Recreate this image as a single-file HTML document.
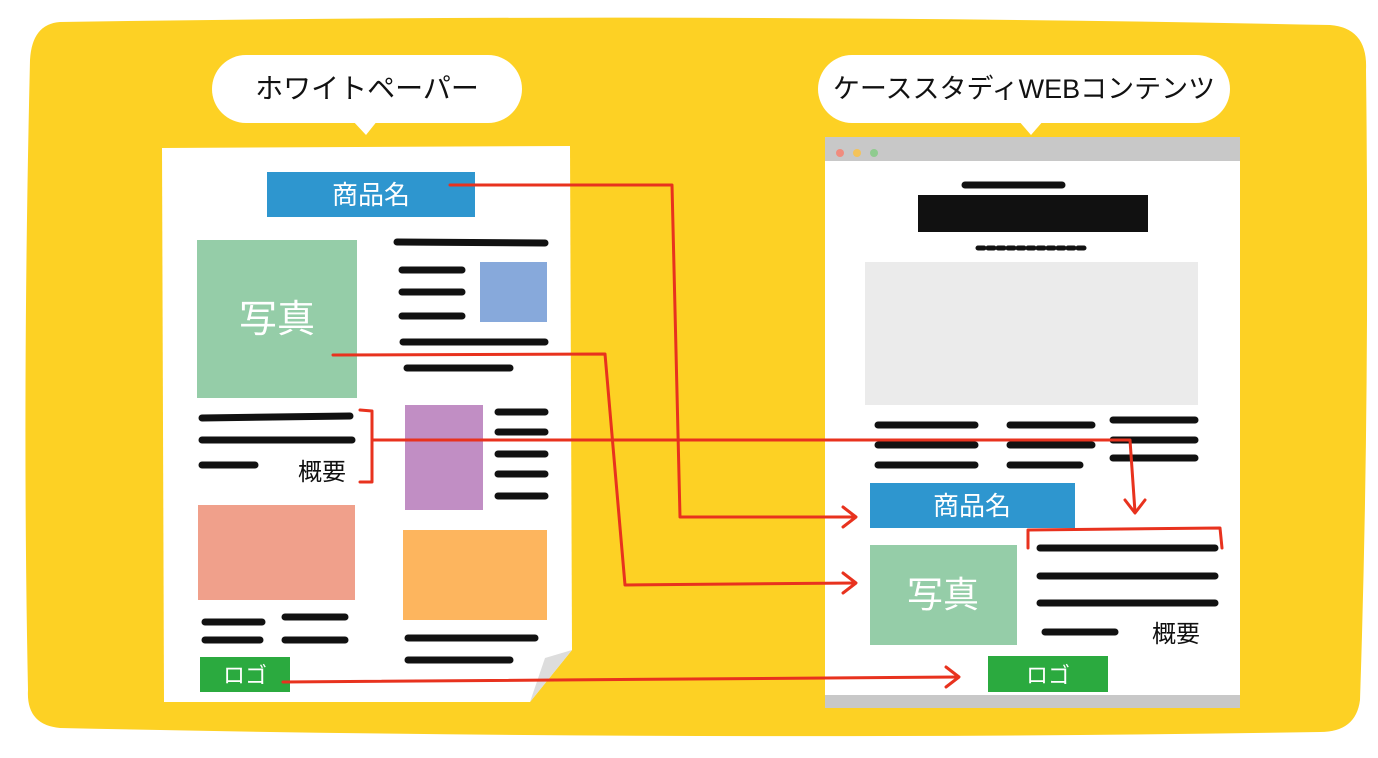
<!DOCTYPE html>
<html><head><meta charset="utf-8"><style>
html,body{margin:0;padding:0;background:#fff;}
svg{display:block}
text{font-family:"Liberation Sans","Noto Sans CJK JP",sans-serif;}
</style></head><body>
<svg width="1378" height="758" viewBox="0 0 1378 758" xmlns="http://www.w3.org/2000/svg">
<path d="M60 22 Q700 12 1330 25 Q1368 28 1366 70 Q1370 400 1360 700 Q1356 732 1320 732 Q700 742 60 728 Q26 725 28 690 Q22 400 30 60 Q32 24 60 22Z" fill="#FDD124"/>
<!-- bubbles -->
<rect x="212" y="55" width="310" height="68" rx="34" fill="#fff"/>
<path d="M352 120 L366 135 L378 120Z" fill="#fff"/>
<text x="367" y="98" font-size="28" text-anchor="middle" fill="#111">ホワイトペーパー</text>
<rect x="818" y="55" width="412" height="68" rx="34" fill="#fff"/>
<path d="M1018 120 L1031 135 L1044 120Z" fill="#fff"/>
<text x="1024" y="98" font-size="27" text-anchor="middle" fill="#111">ケーススタディWEBコンテンツ</text>
<!-- left paper -->
<path d="M162 148 L570 146 L572 650 L530 702 L164 702Z" fill="#fff"/>
<path d="M530 702 L572 650 L545 658Z" fill="#ddd"/>
<rect x="267" y="172" width="208" height="45" fill="#2E96CF"/>
<text x="371" y="204" font-size="26" text-anchor="middle" fill="#fff">商品名</text>
<rect x="197" y="240" width="160" height="158" fill="#95CDA8"/>
<text x="277" y="332" font-size="38" text-anchor="middle" fill="#fff">写真</text>
<g stroke="#111" stroke-width="7" stroke-linecap="round">
<line x1="397" y1="242" x2="545" y2="243"/>
<line x1="402" y1="270" x2="462" y2="270"/><line x1="402" y1="292" x2="462" y2="292"/><line x1="402" y1="316" x2="462" y2="316"/>
<line x1="403" y1="342" x2="545" y2="342"/><line x1="407" y1="368" x2="510" y2="368"/>
<line x1="202" y1="418" x2="350" y2="416"/><line x1="202" y1="440" x2="352" y2="440"/><line x1="202" y1="465" x2="255" y2="465"/>
<line x1="498" y1="412" x2="545" y2="412"/><line x1="498" y1="432" x2="545" y2="432"/><line x1="498" y1="454" x2="545" y2="454"/><line x1="498" y1="474" x2="545" y2="474"/><line x1="498" y1="496" x2="545" y2="496"/>
<line x1="205" y1="622" x2="262" y2="622"/><line x1="285" y1="617" x2="345" y2="617"/><line x1="205" y1="640" x2="260" y2="640"/><line x1="285" y1="640" x2="345" y2="640"/>
<line x1="408" y1="638" x2="535" y2="638"/><line x1="408" y1="660" x2="510" y2="660"/>
</g>
<rect x="480" y="262" width="67" height="60" fill="#87A9DB"/>
<text x="322" y="480" font-size="24" text-anchor="middle" fill="#111">概要</text>
<rect x="405" y="405" width="78" height="105" fill="#C18EC4"/>
<rect x="198" y="505" width="157" height="95" fill="#F0A08B"/>
<rect x="403" y="530" width="144" height="90" fill="#FDB55E"/>
<rect x="200" y="657" width="90" height="35" fill="#2BAA3F"/>
<text x="245" y="683" font-size="22" text-anchor="middle" fill="#fff">ロゴ</text>
<!-- right browser -->
<rect x="825" y="137" width="415" height="571" fill="#fff"/>
<rect x="825" y="137" width="415" height="24" fill="#C8C8C8"/>
<rect x="825" y="695" width="415" height="13" fill="#C8C8C8"/>
<circle cx="840" cy="153" r="4" fill="#F08C7E"/><circle cx="857" cy="153" r="4" fill="#F4C35A"/><circle cx="874" cy="153" r="4" fill="#8FCB8F"/>
<rect x="918" y="195" width="230" height="37" fill="#111"/>
<g stroke="#111" stroke-width="7" stroke-linecap="round">
<line x1="965" y1="185" x2="1062" y2="185"/>
<line x1="978" y1="248" x2="1088" y2="248" stroke-width="5" stroke-dasharray="6 4"/>
<line x1="878" y1="425" x2="975" y2="425"/><line x1="878" y1="445" x2="975" y2="445"/><line x1="878" y1="465" x2="975" y2="465"/>
<line x1="1010" y1="425" x2="1092" y2="425"/><line x1="1010" y1="445" x2="1092" y2="445"/><line x1="1010" y1="465" x2="1080" y2="465"/>
<line x1="1113" y1="420" x2="1195" y2="420"/><line x1="1113" y1="440" x2="1195" y2="440"/><line x1="1113" y1="458" x2="1195" y2="458"/>
<line x1="1040" y1="548" x2="1215" y2="548"/><line x1="1040" y1="576" x2="1215" y2="576"/><line x1="1040" y1="603" x2="1215" y2="603"/><line x1="1045" y1="632" x2="1115" y2="632"/>
</g>
<rect x="865" y="262" width="333" height="143" fill="#EBEBEB"/>
<rect x="870" y="483" width="205" height="45" fill="#2E96CF"/>
<text x="972" y="515" font-size="26" text-anchor="middle" fill="#fff">商品名</text>
<rect x="870" y="545" width="147" height="100" fill="#95CDA8"/>
<text x="943" y="607" font-size="36" text-anchor="middle" fill="#fff">写真</text>
<text x="1176" y="642" font-size="24" text-anchor="middle" fill="#111">概要</text>
<rect x="988" y="656" width="120" height="36" fill="#2BAA3F"/>
<text x="1048" y="683" font-size="22" text-anchor="middle" fill="#fff">ロゴ</text>
<!-- red -->
<g stroke="#E8321E" stroke-width="3" fill="none" stroke-linecap="round" stroke-linejoin="round">
<path d="M360 410 L372 411 L372 482 L360 482"/>
<path d="M1028 548 L1028 530 L1220 528 L1222 548"/>
<path d="M450 185 L672 185 L680 517 L855 517"/><path d="M843 507 L856 517 L843 527"/>
<path d="M333 355 L605 354 L625 585 L855 583"/><path d="M843 573 L856 583 L843 593"/>
<path d="M372 440 L1130 440 L1135 512"/><path d="M1125 500 L1135 513 L1145 500"/>
<path d="M283 682 L958 677"/><path d="M946 667 L959 677 L946 687"/>
</g>
</svg>
</body></html>
